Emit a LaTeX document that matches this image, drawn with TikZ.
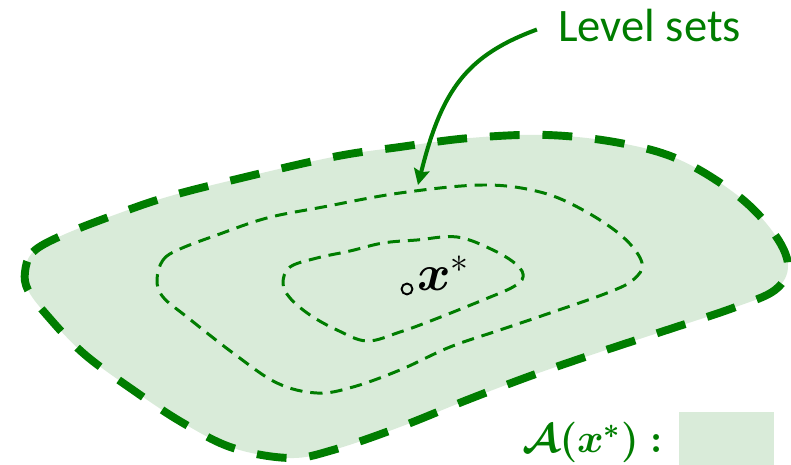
\RequirePackage{fix-cm}
\documentclass[tikz,border=0pt]{standalone}
\usepackage{amsmath}
\usepackage{fontspec}
\newfontfamily\lblfont{Carlito}
\usetikzlibrary{arrows.meta}

\definecolor{lvlgreen}{RGB}{0,125,0}

\begin{document}
\begin{tikzpicture}[
  x=0.02cm, y=-0.02cm,
  >=Stealth,
  region/.style={draw=lvlgreen, fill=lvlgreen!15, line width=4.5pt,
                 dash pattern=on 17pt off 13pt},
  contour/.style={draw=lvlgreen, line width=1.7pt, dash pattern=on 7pt off 4.5pt},
  lbl/.style={inner sep=0pt, font=\fontsize{23}{28}\selectfont},
  arr/.style={-{Stealth[length=9pt, width=9pt, inset=1.5pt]}, draw=lvlgreen,
              line width=2.3pt},
  keybox/.style={fill=lvlgreen!15, minimum width=54pt, minimum height=30pt,
                 inner sep=0pt},
]
  \useasboundingbox (0,0) rectangle (791,465);

  % outer region A(x*)
  \draw[region] plot[smooth cycle, tension=0.6] coordinates {
    (25,272) (33,252) (63,235) (117,214) (167,197) (233,180) (333,157)
    (400,147) (470,138) (547,135) (620,143) (680,160) (737,195) (773,232)
    (788,265) (775,290) (733,308) (667,330) (600,352) (533,375) (467,400)
    (400,427) (333,450) (290,458) (233,448) (183,423) (133,390) (83,353)
    (45,313) (28,290)};

  % level sets
  \draw[contour] plot[smooth cycle, tension=0.6] coordinates {
    (157,280) (163,260) (180,249) (217,235) (267,218) (323,207) (400,193)
    (483,185) (540,192) (583,210) (623,237) (642,263) (633,280) (607,293)
    (550,313) (500,330) (450,347) (400,370) (353,387) (317,393) (277,383)
    (233,353) (187,317) (163,297)};
  \draw[contour] plot[smooth cycle, tension=0.6] coordinates {
    (283,283) (290,267) (317,258) (350,251) (383,243) (417,240) (457,237)
    (493,250) (517,265) (523,277) (513,287) (483,300) (433,320) (400,332)
    (367,341) (337,330) (310,315) (290,298)};

  % minimiser
  \node[circle, draw, line width=1.1pt, minimum size=6.2pt, inner sep=0pt]
    (opt) at (407,289) {};
  \node[lbl, anchor=base west, font=\fontsize{29}{32}\selectfont]
    (optlbl) at (417,291) {$\boldsymbol{x}^*$};

  % callout
  \node[lbl, anchor=base west, text=lvlgreen, font=\lblfont\fontsize{26.5}{30}\selectfont]
    (lvl) at (558,42) {Level sets};
  \coordinate (tip) at (418,185);
  \draw[arr] ([xshift=-12pt, yshift=-2pt]lvl.west) .. controls (468,55) and (442,88) .. (tip);

  % legend
  \node[keybox] (legbox) at (726.5,438.5) {};
  \node[lbl, anchor=base west, text=lvlgreen] (leglbl) at (522,453)
    {$\boldsymbol{\mathcal{A}(x^*)}\boldsymbol{:}$};
\end{tikzpicture}
\end{document}
